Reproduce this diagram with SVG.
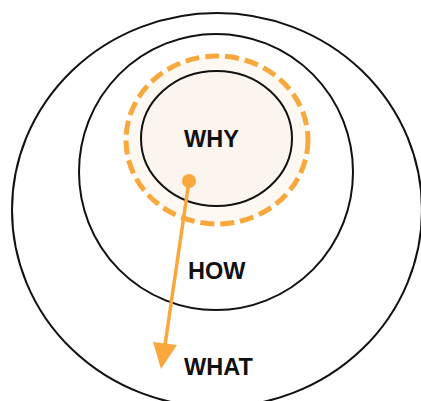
<svg xmlns="http://www.w3.org/2000/svg" width="421" height="401" viewBox="0 0 421 401">
<style>
.ring{fill:none;stroke:#111;stroke-width:2}
.lbl{font-family:"Liberation Sans",Arial,sans-serif;font-weight:bold;font-size:23.5px;fill:#111}
</style>
<rect width="421" height="401" fill="#fff"/>
<g id="what">
<ellipse class="ring" cx="217" cy="210" rx="205" ry="197"/>
<text class="lbl" x="184" y="375">WHAT</text>
</g>
<g id="how">
<ellipse class="ring" cx="216" cy="172" rx="137" ry="138"/>
<text class="lbl" x="188" y="279">HOW</text>
</g>
<g id="why">
<ellipse cx="217" cy="140" rx="91" ry="84" fill="#FEF8F3" stroke="#F8A83C" stroke-width="5" stroke-dasharray="14 6"/>
<ellipse cx="216.5" cy="138.5" rx="75.5" ry="67.5" fill="#FCF4EE" stroke="#111" stroke-width="2"/>
<text class="lbl" x="184" y="147">WHY</text>
</g>
<g id="connectors">
<circle cx="189" cy="181" r="7" fill="#F8A83C"/>
<line x1="189" y1="181" x2="165" y2="345" stroke="#F8A83C" stroke-width="3.5"/>
<path d="M153,342 L177,345 L161,369 Z" fill="#F8A83C"/>
</g>
</svg>
